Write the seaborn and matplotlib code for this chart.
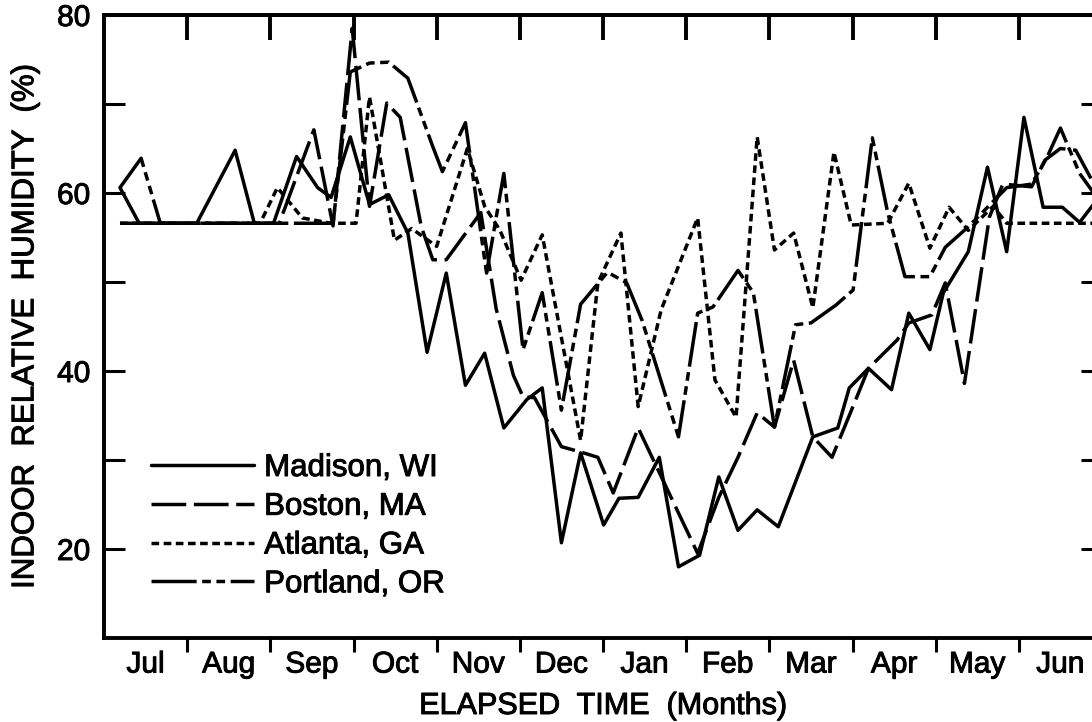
import matplotlib
matplotlib.use("Agg")
import matplotlib.pyplot as plt
import matplotlib.patheffects as pe
from matplotlib.lines import Line2D
import seaborn as sns

sns.set_style("ticks")
plt.rcParams['font.family'] = ['Liberation Sans', 'DejaVu Sans']
plt.rcParams['text.color'] = 'black'
plt.rcParams['axes.labelcolor'] = 'black'
plt.rcParams['axes.edgecolor'] = 'black'
plt.rcParams['xtick.color'] = 'black'
plt.rcParams['ytick.color'] = 'black'

# ---- data (x = week index from start of July, y = indoor RH %) ----
months = ['Jul', 'Aug', 'Sep', 'Oct', 'Nov', 'Dec', 'Jan', 'Feb', 'Mar', 'Apr', 'May', 'Jun']

madison_wk = [0, 1, 4, 6, 7, 8, 9.2, 10.3, 11, 12, 13, 14, 15, 16, 17, 18, 19, 20, 21.2, 22,
              23, 24, 25.2, 26, 27, 28.1, 29.1, 30.2, 31.2, 32.2, 33.2, 34.3, 36.1, 37.4, 38,
              39, 40.2, 41.1, 42.2, 42.9, 44.2, 45.2, 46.2, 47.1, 48.1, 49.1, 50, 51]
madison_rh = [60.6, 56.6, 56.6, 64.8, 56.6, 56.6, 64.1, 60.6, 59.5, 66.3, 58.7, 59.8, 55.5, 42.1,
              51, 38.4, 42, 33.6, 36.8, 38.1, 20.7, 30.8, 22.7, 25.7, 25.8, 30.3, 18, 19.3, 28.1,
              22.1, 24.4, 22.5, 32.6, 33.6, 38.1, 40.3, 37.9, 46.5, 42.4, 48.8, 53.4, 62.9, 53.4,
              68.5, 58.4, 58.4, 56.7, 59.5]

boston_wk = [0, 8.3, 10.1, 11.1, 12.1, 13, 13.9, 14.6, 15.7, 16.3, 17, 18.8, 19.6, 20.5, 21,
             21.6, 23, 24, 24.9, 25.7, 27, 30.1, 31.2, 32.2, 33.2, 34.1, 35.1, 36.1, 37.1, 38,
             39, 40.5, 41.1, 42.3, 43, 44, 45.3, 46, 47.5, 48.2, 49, 49.8, 51]
boston_rh = [56.6, 56.6, 67.1, 56.3, 78.5, 58.5, 70.1, 68.5, 56.2, 52.5, 52.5, 57.8, 47, 39.5,
             37.1, 37, 31.5, 30.9, 30.3, 26.3, 33.6, 19.5, 25.8, 30.3, 35.3, 33.7, 41.2, 32.6,
             30.3, 35, 40.3, 43.5, 45.4, 46.3, 49.9, 38.6, 57.3, 61, 60.7, 63.7, 65, 64.8, 60]

atlanta_wk = [0, 7.3, 8.2, 9.5, 11, 12.3, 13, 14.3, 15.2, 16.5, 18.1, 19, 19.8, 20.9, 22, 24,
              24.9, 26.1, 27, 28.2, 30.1, 31, 32.1, 33.2, 34.1, 35.1, 36.1, 37.2, 38.1, 40,
              41.1, 42.2, 43.2, 44.2, 45.5, 46.2, 51.2]
atlanta_rh = [56.6, 56.6, 60.6, 57.2, 56.6, 56.6, 70.8, 54.7, 56, 54, 65, 58.5, 55.8, 50.2,
              55.3, 32.2, 49.9, 55.5, 36, 46.9, 57.2, 39, 34.8, 66.3, 53.6, 55.5, 47.1, 64.6,
              56.4, 56.6, 61.1, 53.8, 58.4, 55.8, 58.5, 56.6, 56.6]

portland_wk = [0, 1.1, 2.1, 11.1, 12, 13, 14, 15, 16.3, 16.8, 18, 19.1, 20, 21, 22, 23, 24,
               25.4, 26.4, 27.2, 29.1, 30.1, 30.9, 32.2, 33, 34.1, 35.2, 36, 37.3, 38.2, 39.2,
               40, 40.9, 42.2, 43, 44.2, 45.2, 46.2, 47.5, 48.3, 49, 50, 51]
portland_rh = [60.6, 63.9, 56.6, 56.6, 73.6, 74.6, 74.7, 72.9, 65.2, 62.4, 67.9, 51, 62.2, 42.4,
               48.8, 35.6, 47.5, 51.1, 49.9, 45.7, 32.6, 46.5, 47.2, 51.3, 48.8, 33.7, 45.2,
               45.4, 47.4, 49.1, 66.2, 57.8, 50.6, 50.6, 53.9, 56.2, 58.4, 60.6, 61, 64, 67.3,
               62.2, 59.2]

# ---- line styles (dash lengths in units of line width) ----
LW = 2.5
styles = {
    'Madison, WI': '-',
    'Boston, MA': (0, (10, 2.2)),
    'Atlanta, GA': (0, (2.2, 1.3)),
    'Portland, OR': (0, (13, 1.6, 2.5, 1.6, 2.5, 1.6)),
}
series = [
    ('Madison, WI', madison_wk, madison_rh),
    ('Boston, MA', boston_wk, boston_rh),
    ('Atlanta, GA', atlanta_wk, atlanta_rh),
    ('Portland, OR', portland_wk, portland_rh),
]

fig = plt.figure(figsize=(10.92, 7.22), dpi=100)
ax = fig.add_axes([104 / 1092, 1 - 638 / 722, 998 / 1092, 623 / 722])

for name, wk, rh in series:
    sns.lineplot(x=wk, y=rh, ax=ax, color='black', lw=LW, linestyle=styles[name],
                 sort=False, estimator=None, legend=False)

# ---- axes ----
wpm = 52 / 12
edges = [-0.833 + wpm * k for k in range(13)]
centers = [e + wpm / 2 for e in edges[:-1]]
ax.set_xlim(edges[0], edges[-1])
ax.set_ylim(10, 80)

ax.set_xticks(centers)
ax.set_xticklabels(months)
ax.set_xticks(edges[1:-1], minor=True)
ax.tick_params(axis='x', which='major', length=0, pad=9, labelsize=21.5)
ax.tick_params(axis='x', which='minor', direction='out', length=10, width=2.2, top=False)

top = ax.secondary_xaxis('top')
top.set_xticks(edges[1:-1])
top.tick_params(direction='in', length=18, width=2.8, labeltop=False)

ax.set_yticks([20, 40, 60, 80])
ax.set_yticks([30, 50, 70], minor=True)
ax.tick_params(axis='y', which='both', direction='in', length=15, width=2.2,
               left=True, right=True, pad=10, labelsize=21.5)

for sp in ax.spines.values():
    sp.set_linewidth(2.8)
for sp in top.spines.values():
    sp.set_linewidth(2.8)

ax.set_xlabel('ELAPSED  TIME  (Months)', fontsize=22, labelpad=9)
ax.set_ylabel('INDOOR  RELATIVE  HUMIDITY  (%)', fontsize=22.5, labelpad=12)

handles = [Line2D([], [], color='black', lw=LW, linestyle=styles[n]) for n, _, _ in series]
leg = ax.legend(handles, [n for n, _, _ in series], loc='upper left',
                bbox_to_anchor=(151 / 1092, 1 - 453 / 722), bbox_transform=fig.transFigure,
                frameon=False, handlelength=3.3, handletextpad=0.32, labelspacing=0.28,
                borderpad=0, borderaxespad=0, fontsize=22.5)

# slightly heavier text, like the scanned original
thick = [pe.withStroke(linewidth=0.7, foreground='black')]
texts = ax.get_xticklabels() + ax.get_yticklabels() + leg.get_texts()
texts += [ax.xaxis.label, ax.yaxis.label]
for t in texts:
    t.set_path_effects(thick)

fig.savefig('out.png', dpi=100)
